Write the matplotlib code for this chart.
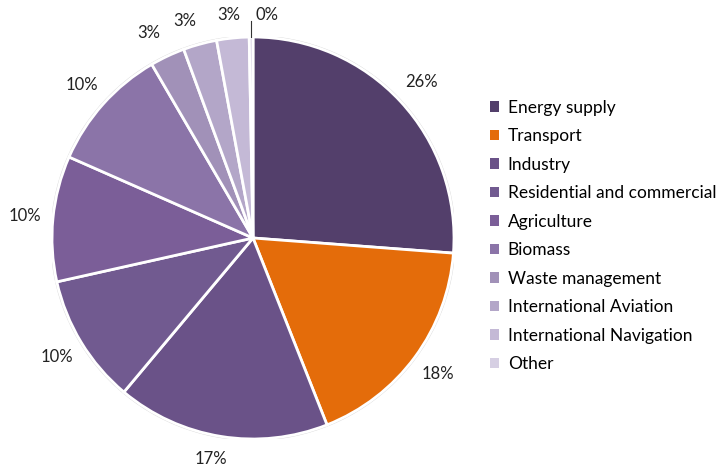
import numpy as np
import matplotlib.pyplot as plt
from matplotlib.patches import Circle

sectors = ["Energy supply", "Transport", "Industry", "Residential and commercial",
           "Agriculture", "Biomass", "Waste management", "International Aviation",
           "International Navigation", "Other"]
shares = [26.2, 17.8, 17.1, 10.4, 10.1, 10.0, 2.8, 2.7, 2.6, 0.3]
colors = ["#533f6b", "#e46c0a", "#6a5288", "#715a90", "#7b5e98",
          "#8b74a8", "#a191b8", "#b3a6c8", "#c4b9d6", "#d6cfe3"]

plt.rcParams['font.family'] = ['Lato', 'DejaVu Sans']

fig = plt.figure(figsize=(7.21, 4.70), dpi=100)
# square axes holding the pie: centre (253, 238) px, radius 201 px
ax = fig.add_axes([52 / 721, (470 - 439) / 470, 402 / 721, 402 / 470])

wedges, texts, autotexts = ax.pie(
    shares, colors=colors, startangle=90, counterclock=False,
    autopct=lambda p: "%d%%" % round(p), pctdistance=1.14,
    wedgeprops=dict(edgecolor="white", linewidth=2),
    textprops=dict(fontsize=12, color="#222222"))
ax.add_patch(Circle((0, 0), 1.005, fill=False, edgecolor="#d8d8d8", linewidth=1, zorder=0))
ax.set_xlim(-1, 1)
ax.set_ylim(-1, 1)
ax.set_aspect("equal")

# spread the crowded small labels at the top like the original
small = {2: (-0.21, -1.10), 6: (-0.52, 1.02), 7: (-0.34, 1.08), 8: (-0.12, 1.11), 9: (0.07, 1.11)}
for i, (x, y) in small.items():
    autotexts[i].set_position((x, y))
# leader line for the tiny last slice
th = np.deg2rad((wedges[9].theta1 + wedges[9].theta2) / 2)
ax.plot([np.cos(th), np.cos(th)], [np.sin(th) * 1.0, 1.08], color="#333333", lw=0.8, clip_on=False)

leg = fig.legend(wedges, sectors, loc="upper left", bbox_to_anchor=(474 / 721, 1 - 84 / 470),
                 frameon=False, fontsize=12.5, handlelength=0.55, handleheight=0.55,
                 handletextpad=0.5, labelspacing=0.72)
for h in leg.legend_handles:
    h.set_edgecolor("none")

fig.savefig("out.png", dpi=100)
